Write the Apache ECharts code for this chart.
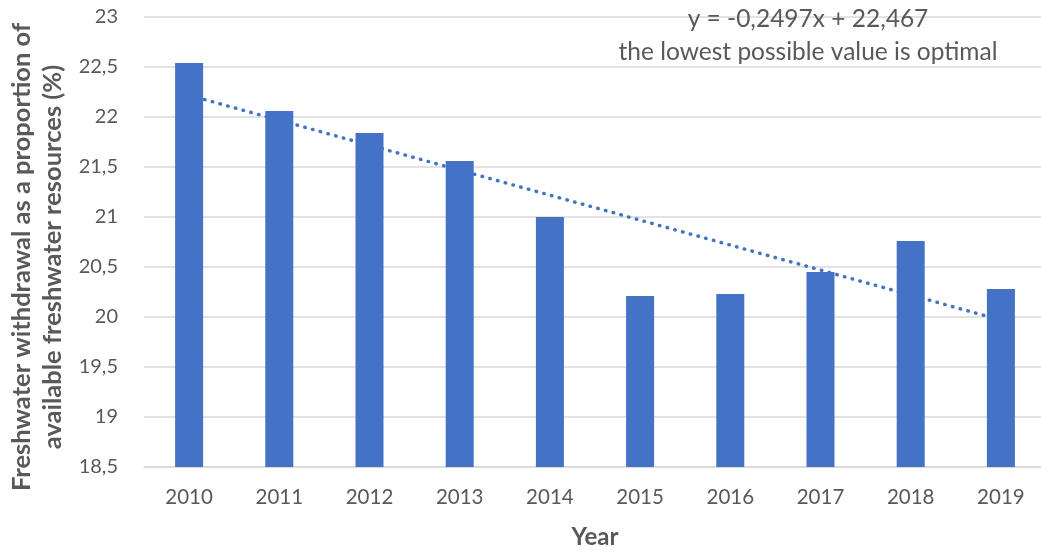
<!DOCTYPE html>
<html>
<head>
<meta charset="utf-8">
<script src="https://cdn.jsdelivr.net/npm/echarts@6/dist/echarts.min.js"></script>
<style>
  html, body { margin: 0; padding: 0; background: #fff; }
  #chart { width: 1041px; height: 552px; }
</style>
</head>
<body>
<div id="chart"></div>
<script>
// Freshwater withdrawal, share of available resources (%)
const years = ['2010', '2011', '2012', '2013', '2014', '2015', '2016', '2017', '2018', '2019'];
const withdrawal = [22.54, 22.06, 21.84, 21.56, 21.00, 20.21, 20.23, 20.45, 20.76, 20.28];

// Linear trend y = slope * x + intercept, x = 1 for the first year
const trendSlope = -0.2497;
const trendIntercept = 22.467;
const trendEquation = 'y = -0,2497x + 22,467';
const trendNote = 'the lowest possible value is optimal';

const yTicks = { min: 18.5, max: 23, interval: 0.5 };

const FONT = 'Lato, "Open Sans", sans-serif';
const GREY = '#595959';
const BLUE = '#4472C4';

const trendLine = [
  [0, trendIntercept + trendSlope * 1],
  [years.length - 1, trendIntercept + trendSlope * years.length]
];

const chart = echarts.init(document.getElementById('chart'), null, { renderer: 'canvas' });

chart.setOption({
  animation: false,
  backgroundColor: '#fff',
  grid: { left: 144, top: 17, width: 902, height: 450, outerBoundsMode: 'none', containLabel: false },
  xAxis: {
    type: 'category',
    data: years,
    axisLine: { show: true, lineStyle: { color: '#d9d9d9', width: 1.5 } },
    axisTick: { show: false },
    axisLabel: { color: GREY, fontFamily: FONT, fontSize: 20.5, margin: 20 },
    name: 'Year',
    nameLocation: 'middle',
    nameGap: 58,
    nameMoveOverlap: false,
    nameTextStyle: { color: GREY, fontFamily: FONT, fontSize: 24, fontWeight: 'bold' }
  },
  yAxis: {
    type: 'value',
    min: yTicks.min,
    max: yTicks.max,
    interval: yTicks.interval,
    axisLine: { show: false },
    axisTick: { show: false },
    splitLine: { lineStyle: { color: '#d9d9d9', width: 1.5 } },
    axisLabel: {
      color: GREY, fontFamily: FONT, fontSize: 20, margin: 26,
      formatter: v => String(v).replace('.', ',')
    },
    name: 'Freshwater withdrawal as a proportion of\navailable freshwater resources (%)',
    nameLocation: 'middle',
    nameGap: 76,
    nameRotate: 90,
    nameMoveOverlap: false,
    nameTextStyle: {
      color: GREY, fontFamily: FONT, fontSize: 25.5, fontWeight: 'bold', lineHeight: 31,
      padding: [0, 30, 0, 0]
    }
  },
  series: [
    {
      type: 'line',
      data: trendLine,
      z: 1,
      symbol: 'none',
      silent: true,
      lineStyle: { color: BLUE, width: 3.5, type: [0.5, 7.5], cap: 'round' }
    },
    {
      type: 'bar',
      data: withdrawal,
      z: 3,
      barWidth: 28,
      itemStyle: { color: BLUE }
    }
  ],
  graphic: [
    {
      type: 'text', x: 808, y: 7, z: 10,
      style: { text: trendEquation, fill: GREY, fontFamily: FONT, fontSize: 24.5, align: 'center' }
    },
    {
      type: 'text', x: 808, y: 40, z: 10,
      style: { text: trendNote, fill: GREY, fontFamily: FONT, fontSize: 24.5, align: 'center' }
    }
  ]
});
</script>
</body>
</html>
